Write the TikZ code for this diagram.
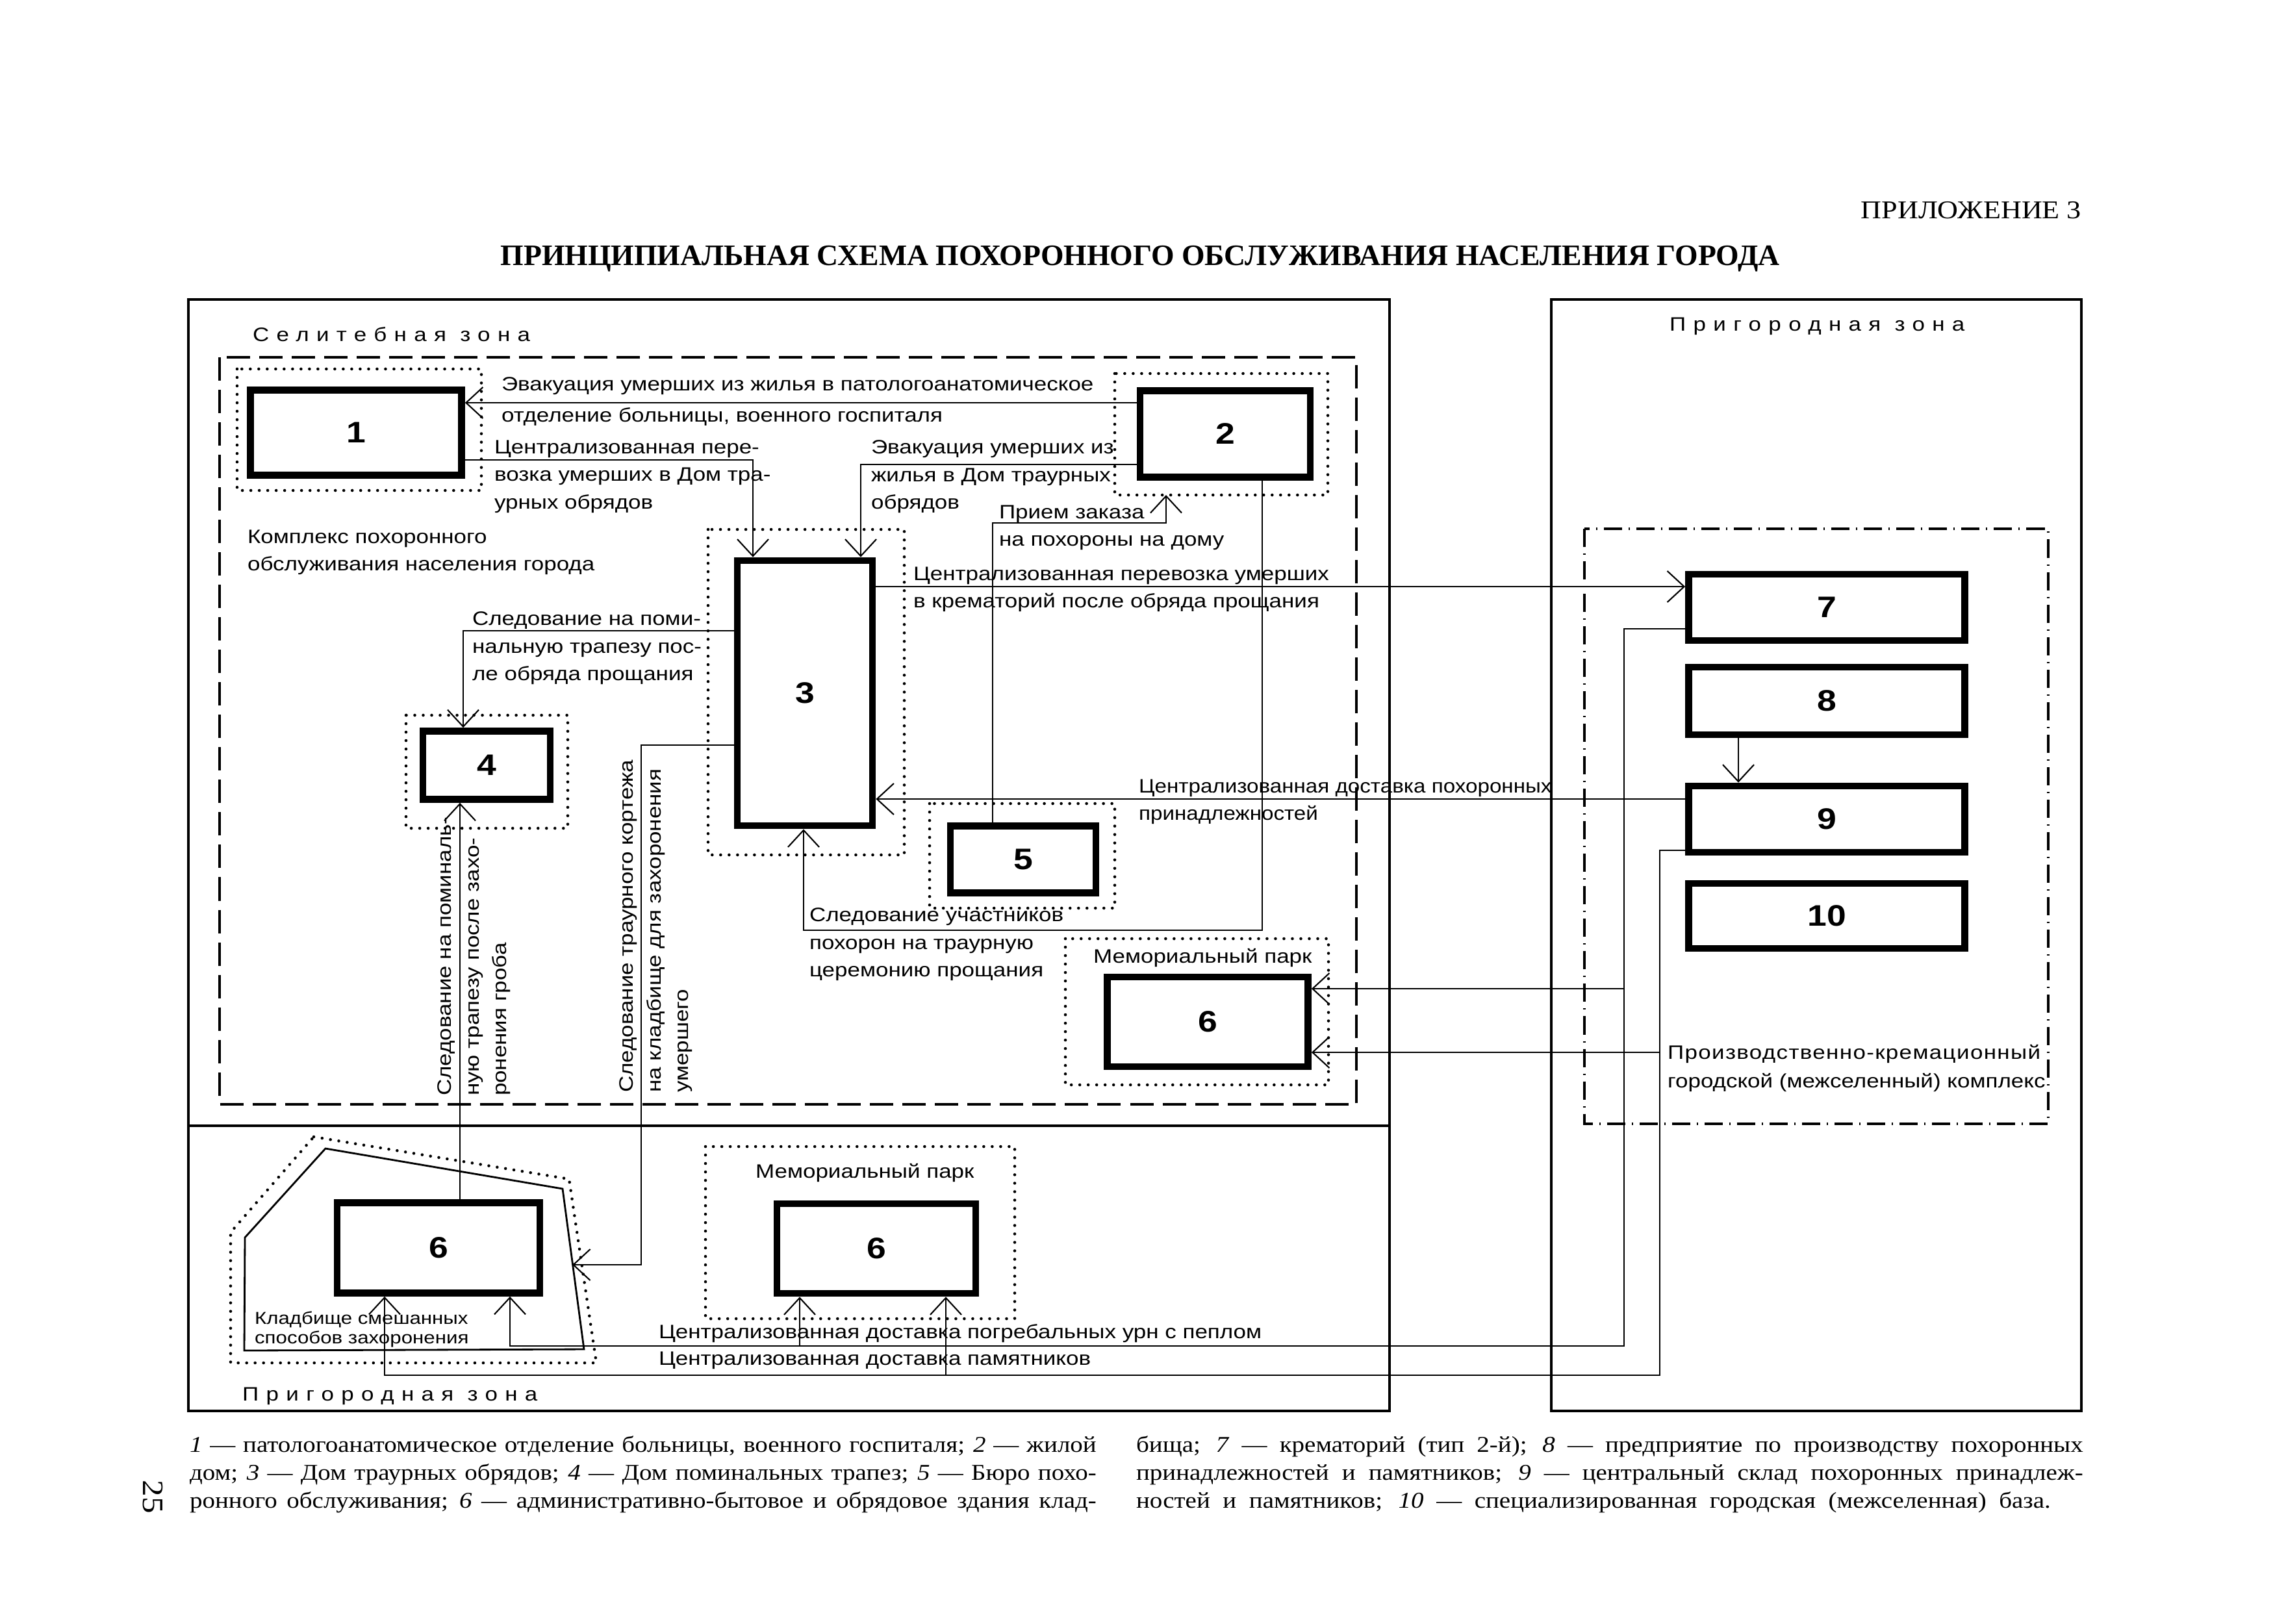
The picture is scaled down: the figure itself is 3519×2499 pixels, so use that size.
\documentclass[tikz,border=0pt]{standalone}
\usepackage{fontspec}
\setmainfont{Liberation Serif}[FakeStretch=1.12]
\setsansfont{Liberation Sans}[FakeStretch=1.17]
\newfontfamily\titlefont{Liberation Serif}
\newfontfamily\zonefont{Liberation Sans}[FakeStretch=1.17,LetterSpace=38]
\newfontfamily\kompfont{Liberation Sans}[FakeStretch=1.17,LetterSpace=4.5]
\newfontfamily\narrowsans{Liberation Sans}[FakeStretch=1.11]
\usepackage{tikz}
\usetikzlibrary{arrows.meta}
\newcommand{\lblfont}{\sffamily\fontsize{8.5}{12}\selectfont}
\tikzstyle{block} = [rectangle, draw, line width=3pt, inner sep=0pt, font=\sffamily\bfseries\fontsize{13}{15}\selectfont]
\tikzstyle{lbl} = [inner sep=0pt, anchor=north west, align=left, font=\lblfont]
\tikzstyle{zone} = [inner sep=0pt, anchor=base west, font=\zonefont\fontsize{8.5}{10}\selectfont]
\tikzstyle{foot} = [inner sep=0pt, anchor=base west, font=\fontsize{9.9}{12}\selectfont]
\tikzstyle{frame} = [line width=1.2pt]
\tikzstyle{dashbox} = [line width=1.1pt, dash pattern=on 0.36cm off 0.14cm]
\tikzstyle{dotbox} = [line width=1.3pt, line cap=round, dash pattern=on 0pt off 0.13cm]
\tikzstyle{dashdotbox} = [line width=1.1pt, dash pattern=on 0.28cm off 0.1cm on 0.02cm off 0.1cm]
\begin{document}
\begin{tikzpicture}[x=0.01cm, y=-0.01cm, line width=0.6pt, >={Straight Barb[length=0.26cm,width=0.48cm]}]
  \fill[white] (0,0) rectangle (3519,2499);
  \useasboundingbox (0,0) rectangle (3519,2499);
  % headings
  \draw (3205,336) node[anchor=base east, inner sep=0pt, font=\fontsize{11.2}{13}\selectfont](app){ПРИЛОЖЕНИЕ 3};
  \draw (1755,408) node[anchor=base, inner sep=0pt, font=\titlefont\bfseries\fontsize{13}{15}\selectfont](title){ПРИНЦИПИАЛЬНАЯ СХЕМА ПОХОРОННОГО ОБСЛУЖИВАНИЯ НАСЕЛЕНИЯ ГОРОДА};
  % zones
  \draw[frame] (290,461) rectangle (2139,2172);
  \draw[frame] (290,1733) -- (2139,1733);
  \draw[frame] (2388,461) rectangle (3204,2172);
  \draw (388,525) node[zone](zsel){Селитебная зона};
  \draw (2569,509) node[zone](zpri){Пригородная зона};
  \draw (372,2156) node[zone](zpri2){Пригородная зона};
  \draw[dashbox] (338,550) rectangle (2088,1700);
  \draw[dashdotbox] (2439,814) rectangle (3153,1730);
  % dotted areas
  \draw[dotbox] (365,568) rectangle (741,755);
  \draw[dotbox] (1716,575) rectangle (2044,762);
  \draw[dotbox] (1090,815) rectangle (1392,1316);
  \draw[dotbox] (625,1101) rectangle (874,1275);
  \draw[dotbox] (1431,1237) rectangle (1716,1398);
  \draw[dotbox] (1640,1445) rectangle (2045,1670);
  \draw[dotbox] (1086,1765) rectangle (1562,2030);
  % cemetery
  \draw[line width=0.8pt] (501,1768) -- (866,1830) -- (899,2077) -- (376,2079) -- (377,1905) -- cycle;
  \draw[dotbox] (483,1750) -- (876,1815) -- (918,2098) -- (355,2098) -- (355,1897) -- cycle;
  % blocks
  \draw (548,666) node[block, minimum width=3.25cm, minimum height=1.31cm](b1){1};
  \draw (1886,668) node[block, minimum width=2.62cm, minimum height=1.33cm](b2){2};
  \draw (1239,1067) node[block, minimum width=2.08cm, minimum height=4.08cm](b3){3};
  \draw (749,1178) node[block, minimum width=1.96cm, minimum height=1.05cm](b4){4};
  \draw (1575,1323) node[block, minimum width=2.24cm, minimum height=1.03cm](b5){5};
  \draw (1859,1573) node[block, minimum width=3.09cm, minimum height=1.38cm](b6m){6};
  \draw (675,1921) node[block, minimum width=3.12cm, minimum height=1.39cm](b6c){6};
  \draw (1349,1922) node[block, minimum width=3.06cm, minimum height=1.38cm](b6p){6};
  \draw (2812,935) node[block, minimum width=4.25cm, minimum height=1.02cm](b7){7};
  \draw (2812,1079) node[block, minimum width=4.25cm, minimum height=1.04cm](b8){8};
  \draw (2812,1261) node[block, minimum width=4.25cm, minimum height=1.02cm](b9){9};
  \draw (2812,1410) node[block, minimum width=4.25cm, minimum height=1.0cm](b10){10};
  % labels
  \draw (771,580) node[lbl](l1){Эвакуация умерших из жилья в патологоанатомическое\\[1.4pt]отделение больницы, военного госпиталя};
  \draw (760,677) node[lbl](l2){Централизованная пере-\\возка умерших в Дом тра-\\урных обрядов};
  \draw (1340,677) node[lbl](l3){Эвакуация умерших из\\жилья в Дом траурных\\обрядов};
  \draw (380,815) node[lbl](l4){Комплекс похоронного\\обслуживания населения города};
  \draw (1537,777) node[lbl](l5){Прием заказа\\на похороны на дому};
  \draw (1405,872) node[lbl](l6){Централизованная перевозка умерших\\в крематорий после обряда прощания};
  \draw (726,941) node[lbl](l7){Следование на поми-\\нальную трапезу пос-\\ле обряда прощания};
  \draw (1752,1199) node[lbl, font=\narrowsans\fontsize{8.5}{12}\selectfont](l8){Централизованная доставка похоронных\\принадлежностей};
  \draw (1245,1397) node[lbl](l9){Следование участников\\похорон на траурную\\церемонию прощания};
  \draw (1682,1459) node[lbl](l10){Мемориальный парк};
  \draw (2566,1607) node[lbl](l11){{\kompfont Производственно-кремационный}\\[0.6pt]городской (межселенный) комплекс};
  \draw (673,1688) node[lbl, rotate=90](l12){Следование на поминаль-\\ную трапезу после захо-\\ронения гроба};
  \draw (953,1683) node[lbl, rotate=90](l13){Следование траурного кортежа\\на кладбище для захоронения\\умершего};
  \draw (1162,1790) node[lbl](l14){Мемориальный парк};
  \draw (391,2018) node[lbl, font=\sffamily\fontsize{7.6}{8.6}\selectfont](l15){Кладбище смешанных\\способов захоронения};
  \draw (1013,2037) node[lbl](l16){Централизованная доставка погребальных урн с пеплом};
  \draw (1013,2080) node[lbl](l17){Централизованная доставка памятников};
  % connectors
  \path[->] (b2.west |- 0,620) edge (b1.east |- 0,620);
  \draw[->] (b1.east |- 0,708) -| (b3.north -| 1159,0);
  \draw[->] (b2.west |- 0,715) -| (b3.north -| 1325,0);
  \coordinate (d2) at (1795,762);
  \draw[->] (b5.north -| 1528,0) |- (1795,805) -- (d2);
  \draw[->] (b2.south -| 1943,0) |- (1237,1432) -- (b3.south -| 1237,0);
  \path[->] (b3.east |- 0,903) edge (b7.west |- 0,903);
  \draw[->] (b3.west |- 0,971) -| (b4.north -| 713,0);
  \coordinate (cem) at (881,1947);
  \draw[->] (b3.west |- 0,1147) -| (987,1947) -- (cem);
  \path[->] (b6c.north -| 708,0) edge (b4.south -| 708,0);
  \path[->] (b9.west |- 0,1230) edge (b3.east |- 0,1230);
  \path[->] (b8.south -| 2676,0) edge (b9.north -| 2676,0);
  % urns and monuments
  \coordinate (u1) at (2500,1522);
  \coordinate (u2) at (1231,2072);
  \coordinate (m1) at (2555,1620);
  \coordinate (m2) at (1456,2117);
  \draw[->] (b7.west |- 0,968) -| (2500,2072) -| (b6c.south -| 785,0);
  \path[->] (u1) edge (b6m.east |- u1)
            (u2) edge (b6p.south -| u2);
  \draw[->] (b9.west |- 0,1309) -| (2555,2117) -| (b6c.south -| 592,0);
  \path[->] (m1) edge (b6m.east |- m1)
            (m2) edge (b6p.south -| m2);
  % legend
  \draw (235,2304) node[rotate=-90, inner sep=0pt, font=\fontsize{13}{15}\selectfont](pg){25};
  \draw (291,2235) node[foot](f1){\makebox[13.95cm][s]{\textit{1} — патологоанатомическое отделение больницы, военного госпиталя; \textit{2} — жилой}};
  \draw (291,2278) node[foot](f2){\makebox[13.95cm][s]{дом; \textit{3} — Дом траурных обрядов; \textit{4} — Дом поминальных трапез; \textit{5} — Бюро похо-}};
  \draw (291,2321) node[foot](f3){\makebox[13.95cm][s]{ронного обслуживания; \textit{6} — административно-бытовое и обрядовое здания клад-}};
  \draw (1748,2235) node[foot](f4){\makebox[14.57cm][s]{бища; \textit{7} — крематорий (тип 2-й); \textit{8} — предприятие по производству похоронных}};
  \draw (1748,2278) node[foot](f5){\makebox[14.57cm][s]{принадлежностей и памятников; \textit{9} — центральный склад похоронных принадлеж-}};
  \draw (1748,2321) node[foot](f6){\makebox[14.07cm][s]{ностей и памятников; \textit{10} — специализированная городская (межселенная) база.}};
\end{tikzpicture}
\end{document}
